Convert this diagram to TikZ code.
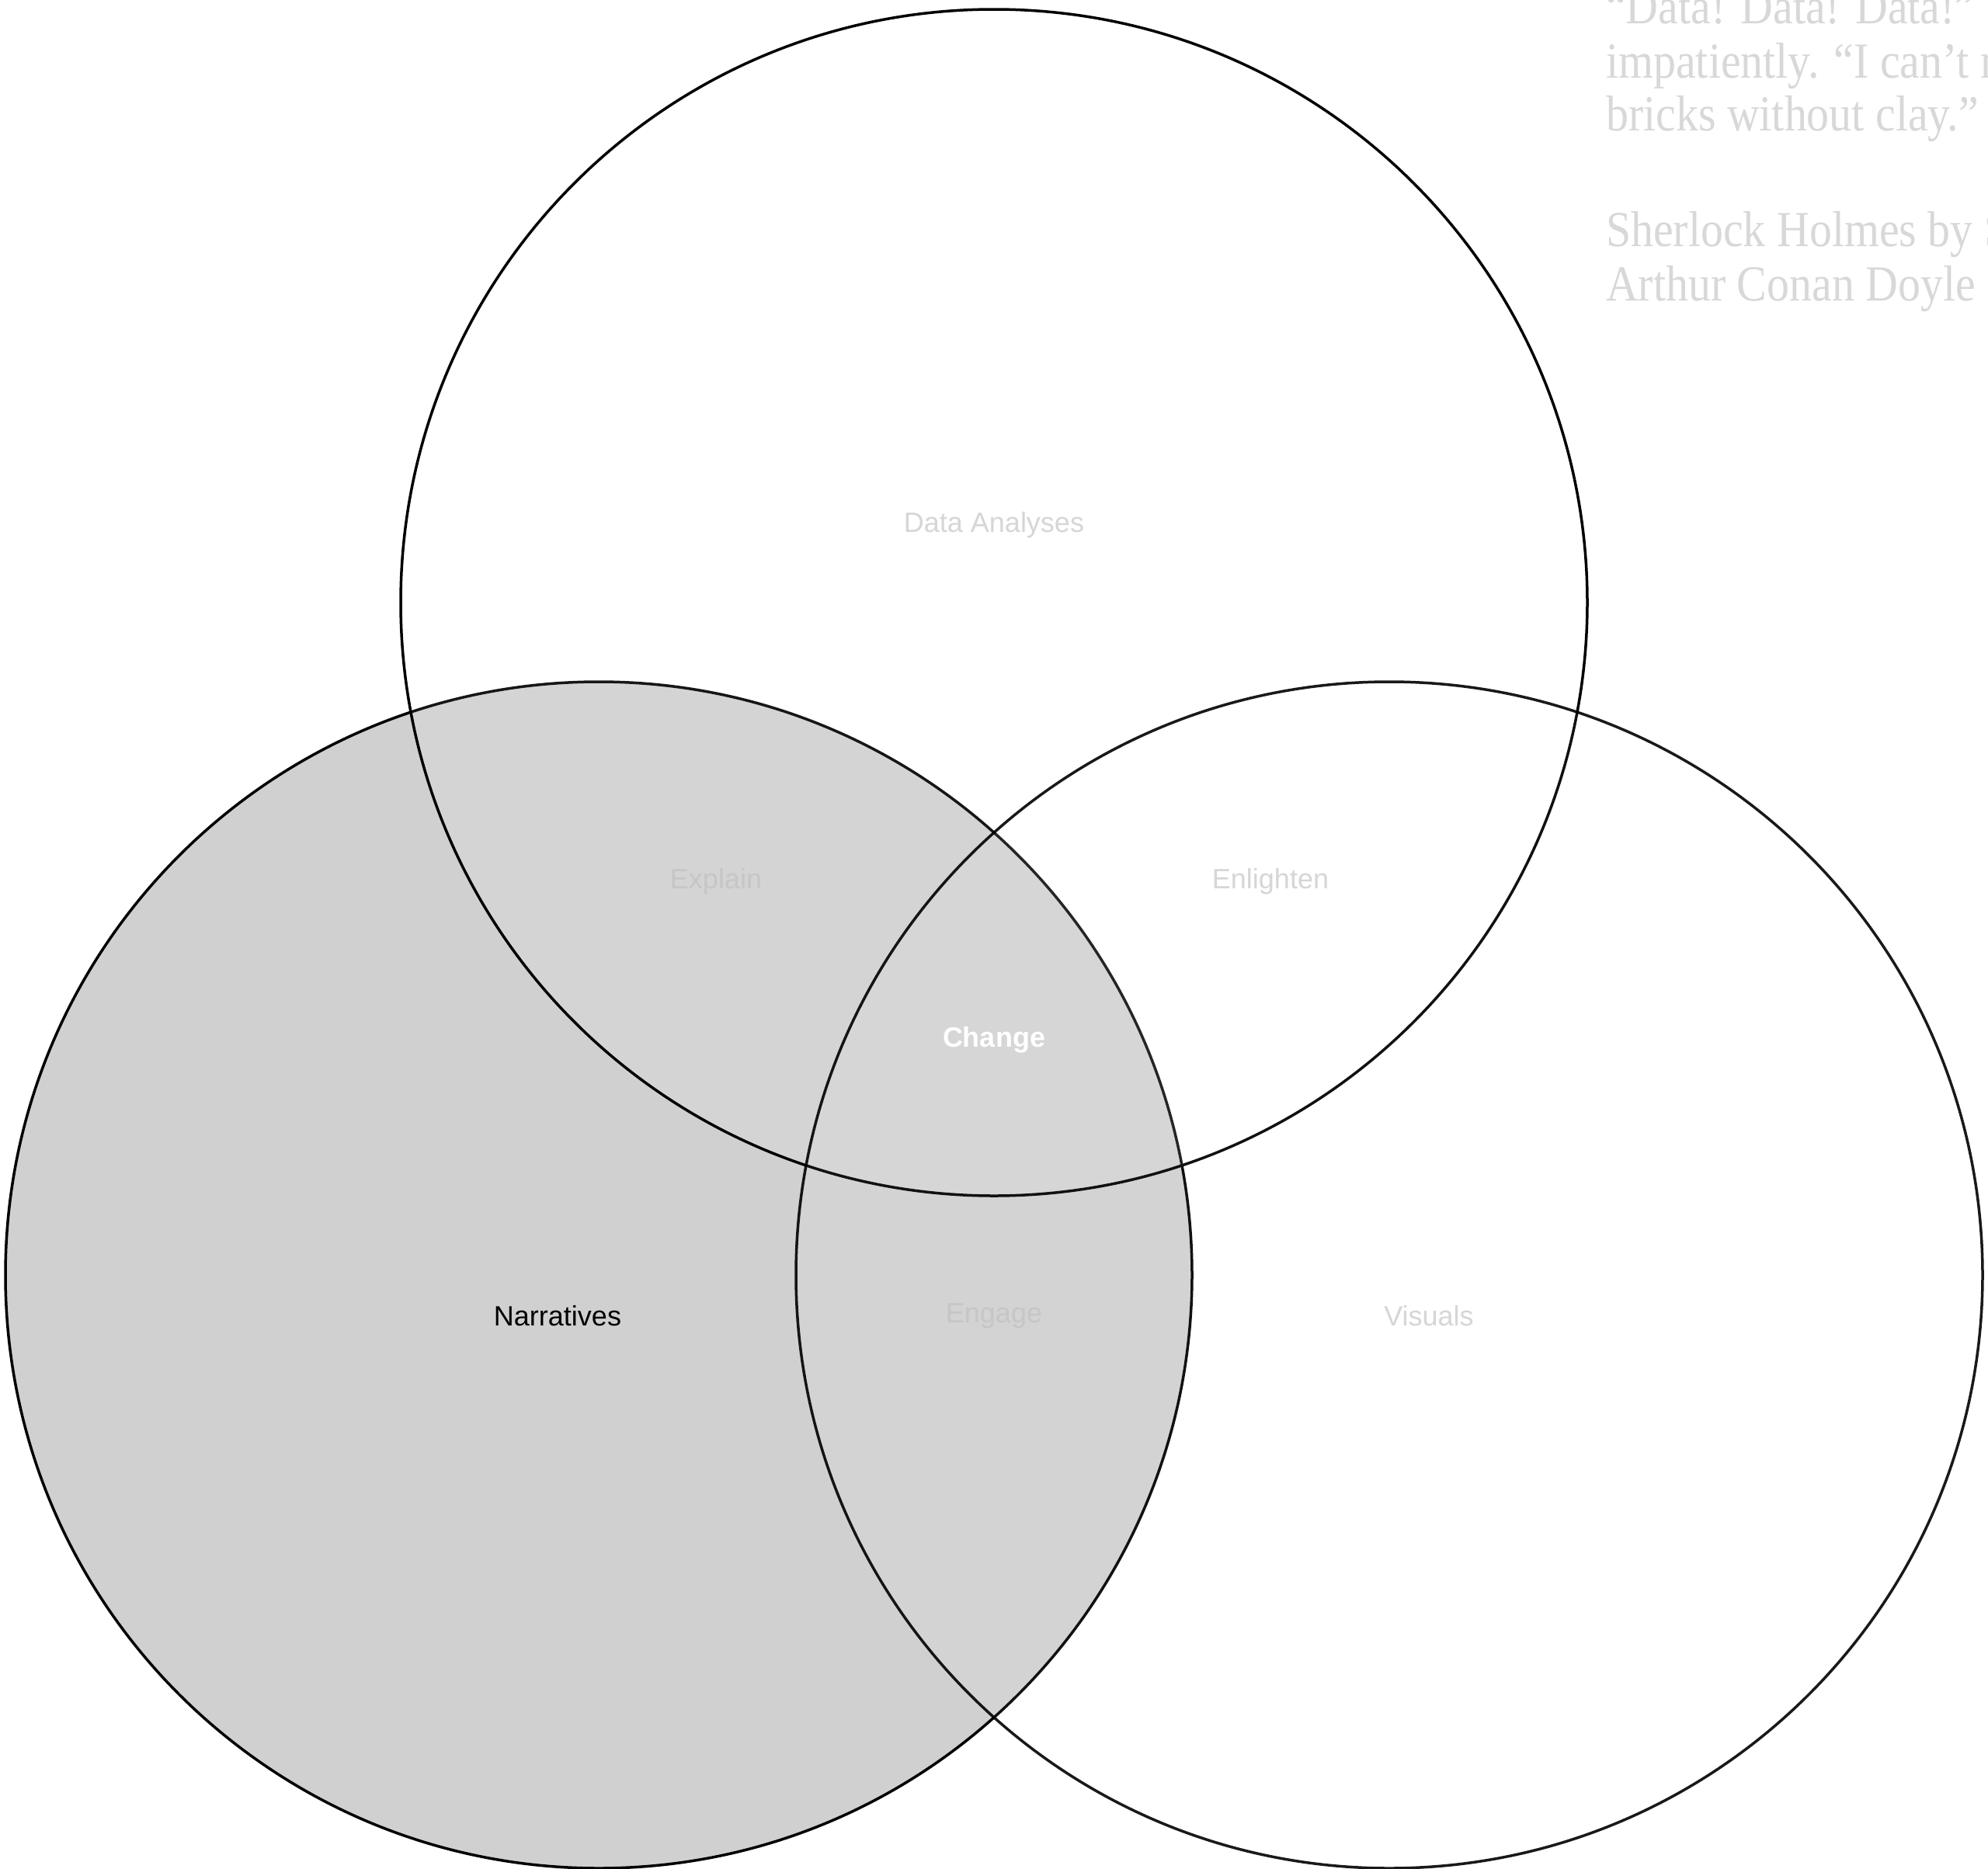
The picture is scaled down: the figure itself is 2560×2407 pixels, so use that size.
\documentclass[tikz,border=0pt]{standalone}
\usepackage{fontspec}
\setmainfont{Liberation Serif}
\setsansfont{Liberation Sans}
\newfontfamily\qfont[FakeStretch=0.89]{Liberation Serif}
\definecolor{narr}{HTML}{D0D0D0}
\definecolor{lbl}{HTML}{D6D6D6}
\definecolor{lblin}{HTML}{C6C6C6}
\definecolor{quote}{HTML}{D8D8D8}
\begin{document}
\begin{tikzpicture}[x=1pt,y=-1pt,
  venn/.style={circle,draw=black,line width=3.5pt,minimum size=1528pt,inner sep=0pt,outer sep=0pt},
  lab/.style={font=\sffamily\fontsize{36}{43}\selectfont,inner sep=0pt,anchor=center},
  qt/.style={font=\qfont\fontsize{65}{69}\selectfont,text=quote,inner sep=0pt,anchor=base west}]
\useasboundingbox (0,0) rectangle (2560,2407);
\clip (0,0) rectangle (2560,2407);
\fill[white] (0,0) rectangle (2560,2407);
\node[venn,fill=narr] (narrc) at (771,1642) {};
\node[venn,fill=white,fill opacity=0.085] (datac) at (1280,776) {};
\node[venn,fill=white,fill opacity=0.065,draw opacity=0.9] (visc) at (1789,1642) {};
\node[lab,text=lbl] (data) at (1280,676) {Data Analyses};
\node[lab,text=lblin] (explain) at (922,1135) {Explain};
\node[lab,text=lbl] (enlighten) at (1636,1135) {Enlighten};
\node[lab,text=white,font=\sffamily\bfseries\fontsize{36}{43}\selectfont] (change) at (1280,1339) {Change};
\node[lab,text=black] (narr) at (718,1695) {Narratives};
\node[lab,text=lblin] (engage) at (1280,1695) {Engage};
\node[lab,text=lbl] (visuals) at (1840,1695) {Visuals};
\node[qt] (q1) at (2068,30) {“Data! Data! Data!” he cried};
\node[qt] (q2) at (2068,100) {impatiently. “I can’t make};
\node[qt] (q3) at (2068,168) {bricks without clay.”};
\node[qt] (q4) at (2068,317) {Sherlock Holmes by Sir};
\node[qt] (q5) at (2068,387) {Arthur Conan Doyle};
\end{tikzpicture}
\end{document}
